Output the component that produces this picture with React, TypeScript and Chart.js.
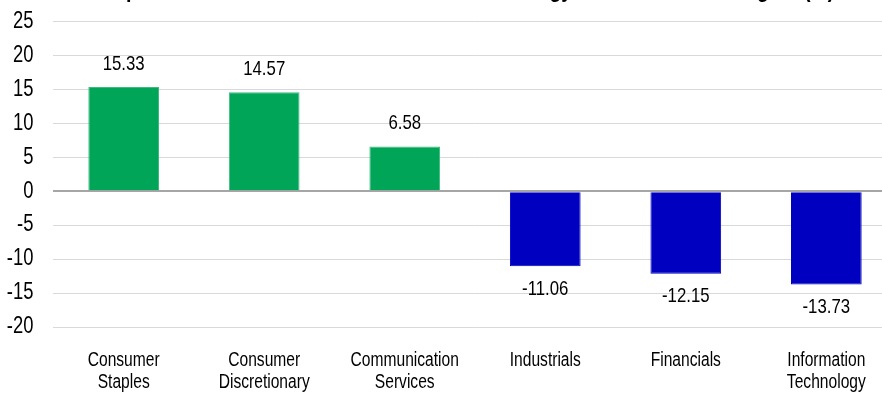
import React, { useEffect, useRef } from "react";
import { Chart, registerables } from "chart.js";

Chart.register(...registerables);

const categories: string[][] = [
  ["Consumer", "Staples"],
  ["Consumer", "Discretionary"],
  ["Communication", "Services"],
  ["Industrials"],
  ["Financials"],
  ["Information", "Technology"],
];
const values: number[] = [15.33, 14.57, 6.58, -11.06, -12.15, -13.73];
const yMin = -20;
const yMax = 25;
const yStep = 5;
const titleText =
  "Top 3 and Bottom 3 Sector Tilts of the US Strategy vs. Benchmark Weights (%)";

const GREEN = "#00A558";
const GREEN_EDGE = "#3dbb7c";
const BLUE = "#0000C0";
const FONT = "'Liberation Sans', Arial, sans-serif";
const NARROW = 0.8; // condensed Arial look (Arial Narrow)

const CANVAS_W = 938;
const CANVAS_H = 426;
const TOP_OFFSET = 30;

const labelPlugin = {
  id: "barValueLabels",
  afterDatasetsDraw(chart: any) {
    const ctx = chart.ctx;
    const meta = chart.getDatasetMeta(0);
    ctx.save();
    ctx.font = `21px ${FONT}`;
    ctx.fillStyle = "#000000";
    ctx.textAlign = "center";
    ctx.textBaseline = "middle";
    meta.data.forEach((bar: any, i: number) => {
      const v = values[i];
      const y = v >= 0 ? bar.y - 23 : bar.y + 23;
      ctx.fillText(v.toFixed(2), bar.x, y);
    });
    ctx.restore();
  },
};

export default function App() {
  const ref = useRef<HTMLCanvasElement | null>(null);

  useEffect(() => {
    if (!ref.current) return;
    const ctx2d: any = ref.current.getContext("2d");
    const origFill = ctx2d.fillText.bind(ctx2d);
    ctx2d.fillText = function (text: string, x: number, y: number, maxWidth?: number) {
      ctx2d.save();
      ctx2d.translate(x, y);
      ctx2d.scale(NARROW, 1);
      if (maxWidth !== undefined) origFill(text, 0, 0, maxWidth / NARROW);
      else origFill(text, 0, 0);
      ctx2d.restore();
    };

    const chart = new Chart(ref.current, {
      type: "bar",
      data: {
        labels: categories,
        datasets: [
          {
            data: values,
            backgroundColor: values.map((v) => (v >= 0 ? GREEN : BLUE)),
            borderColor: values.map((v) => (v >= 0 ? GREEN_EDGE : BLUE)),
            borderWidth: 1,
            barPercentage: 0.503,
            categoryPercentage: 1,
          },
        ],
      },
      options: {
        responsive: false,
        animation: false,
        layout: { padding: { left: 0, right: 0, top: 0, bottom: 0 } },
        plugins: {
          legend: { display: false },
          tooltip: { enabled: false },
          title: {
            display: true,
            text: titleText,
            color: "#000000",
            font: { family: FONT, size: 24.5, weight: "bold", lineHeight: 1.2 },
            padding: { top: 6, bottom: 16 },
          },
        },
        scales: {
          x: {
            grid: { display: false, drawTicks: false },
            border: { display: false },
            ticks: {
              color: "#000000",
              font: { family: FONT, size: 19.5, lineHeight: 1.13 },
              padding: 23,
              maxRotation: 0,
              autoSkip: false,
            },
            afterFit(scale: any) {
              scale.height = 69;
            },
          },
          y: {
            min: yMin,
            max: yMax,
            grid: {
              drawTicks: false,
              color: (c: any) => (c.tick && c.tick.value === 0 ? "#a6a6a6" : "#d9d9d9"),
              lineWidth: (c: any) => (c.tick && c.tick.value === 0 ? 2 : 1),
            },
            border: { display: false },
            ticks: {
              stepSize: yStep,
              color: "#000000",
              font: { family: FONT, size: 23 },
              padding: 20,
            },
            afterFit(scale: any) {
              scale.width = 53.4;
            },
          },
          yRight: {
            type: "linear",
            position: "right",
            min: yMin,
            max: yMax,
            grid: { display: false, drawTicks: false },
            border: { display: false },
            ticks: { display: false },
            afterFit(scale: any) {
              scale.width = 41.4;
            },
          },
        },
      },
      plugins: [labelPlugin],
    });
    return () => {
      chart.destroy();
      ctx2d.fillText = origFill;
    };
  }, []);

  return (
    <div
      style={{
        position: "fixed",
        left: 0,
        top: 0,
        width: 882,
        height: 396,
        overflow: "hidden",
        background: "#ffffff",
      }}
    >
      <div style={{ position: "absolute", left: 0, top: -TOP_OFFSET }}>
        <canvas
          ref={ref}
          width={CANVAS_W}
          height={CANVAS_H}
          style={{ width: CANVAS_W, height: CANVAS_H, display: "block" }}
        />
      </div>
    </div>
  );
}
